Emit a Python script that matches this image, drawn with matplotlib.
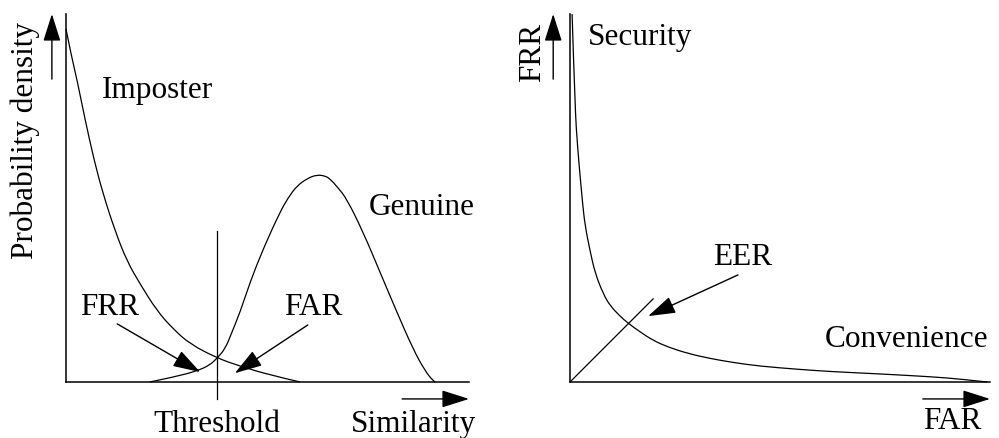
import matplotlib
matplotlib.use("Agg")
import matplotlib.pyplot as plt
from matplotlib.path import Path
from matplotlib.patches import PathPatch

plt.rcParams["font.family"] = ["Liberation Serif", "DejaVu Serif"]

# left panel: score distributions (both axes on a 0-100 scale)
imposter_x = [0, 1.5, 2.7, 4.7, 6.9, 9.2, 12.2, 15.1, 18.4, 22.6, 26.6, 30.8, 37.5, 43.2, 50.6, 58.1]
imposter_y = [95.9, 87.8, 82.3, 71.5, 60.6, 51.1, 41.0, 32.9, 26.6, 19.3, 14.4, 10.3, 6.5, 4.3, 1.9, 0]

genuine_x = [20.8, 27.0, 32.5, 35.7, 37.5, 39.5, 41.2, 43.2, 45.7, 48.9, 53.1, 55.2, 57.3, 60.0,
             62.3, 64.3, 65.5, 67.5, 69.7, 73.7, 77.9, 82.1, 86.1, 89.1, 91.1, 91.6]
genuine_y = [0, 1.4, 3.0, 4.6, 6.5, 9.0, 13.6, 19.0, 27.2, 36.1, 46.2, 50.2, 53.3, 55.4,
             56.3, 56.0, 55.2, 52.8, 49.7, 40.8, 29.9, 19.0, 9.0, 3.0, 0.3, 0]

threshold = 37.5

# right panel: FRR vs FAR trade-off
far = [0.5, 1.2, 1.8, 2.4, 3.0, 3.6, 4.8, 6.0, 7.9, 9.5, 11.9, 13.8, 16.7, 19.8, 23.1,
       27.9, 33.3, 38.8, 45.2, 54.8, 62.6, 73.8, 86.4, 92.9, 99.3]
frr = [100, 74.2, 64, 56.0, 48.5, 42.4, 35.5, 29.5, 24.0, 20.8, 17.9, 16.0, 13.6, 11.3, 9.6,
       7.8, 6.4, 5.3, 4.3, 3.4, 2.8, 2.2, 1.4, 0.8, 0]
eer_line = [0, 19.8]
eer_line_y = [0, 22.6]

FS = 22.5
LW = 0.9
head = "-|>,head_length=0.85,head_width=0.27"

fig = plt.figure(figsize=(9.99, 4.39), dpi=100)
W, H = 999, 439
ax1 = fig.add_axes([66 / W, (H - 383) / H, 403 / W, 368 / H])
ax2 = fig.add_axes([570 / W, (H - 383) / H, 420 / W, 368 / H])

for ax in (ax1, ax2):
    ax.set_xlim(0, 100)
    ax.set_ylim(0, 100)
    ax.set_xticks([])
    ax.set_yticks([])
    for s in ("top", "right"):
        ax.spines[s].set_visible(False)
    for s in ("left", "bottom"):
        ax.spines[s].set_linewidth(1.1)
    ax.patch.set_alpha(0)


def smooth_curve(ax, xs, ys):
    # quadratic segments through the midpoints, so the read points act as controls
    pts = list(zip(xs, ys))
    verts = [pts[0]]
    codes = [Path.MOVETO]
    for i in range(1, len(pts) - 1):
        mid = ((pts[i][0] + pts[i + 1][0]) / 2, (pts[i][1] + pts[i + 1][1]) / 2)
        end = mid if i < len(pts) - 2 else pts[-1]
        verts += [pts[i], end]
        codes += [Path.CURVE3, Path.CURVE3]
    ax.add_patch(PathPatch(Path(verts, codes), fill=False, ec="black", lw=LW,
                           clip_on=False))


def arrow(ax, tail, tip):
    ax.annotate("", xy=tip, xytext=tail, annotation_clip=False,
                arrowprops=dict(arrowstyle=head, color="black", lw=1.0,
                                mutation_scale=20, shrinkA=0, shrinkB=0))


# left panel
smooth_curve(ax1, imposter_x, imposter_y)
smooth_curve(ax1, genuine_x, genuine_y)
ax1.plot([threshold, threshold], [41.0, -4.6], color="black", lw=LW, clip_on=False)
arrow(ax1, (12.7, 15.8), (33.3, 2.7))
arrow(ax1, (60.0, 15.5), (41.9, 2.4))
arrow(ax1, (83.4, -4.6), (100, -4.6))
arrow(ax1, (-3.5, 82.3), (-3.5, 100))

ax1.text(22.8, 79.6, "Imposter", fontsize=FS, ha="center", va="center")
ax1.text(88.3, 47.6, "Genuine", fontsize=FS, ha="center", va="center", clip_on=False)
ax1.text(10.9, 20.4, "FRR", fontsize=FS, ha="center", va="center")
ax1.text(61.3, 20.4, "FAR", fontsize=FS, ha="center", va="center")
ax1.text(threshold, -13.4, "Threshold", fontsize=FS, ha="center", va="baseline")
ax1.text(86.1, -13.4, "Similarity", fontsize=FS, ha="center", va="baseline")
ax1.text(-10.0, 66.0, "Probability density", fontsize=FS, ha="center", va="center",
         rotation=90)

# right panel
smooth_curve(ax2, far, frr)
ax2.plot(eer_line, eer_line_y, color="black", lw=LW)
arrow(ax2, (40.0, 29.1), (18.6, 17.9))
arrow(ax2, (84.0, -4.6), (100, -4.6))
arrow(ax2, (-4.0, 82.3), (-4.0, 100))

ax2.text(16.7, 93.8, "Security", fontsize=FS, ha="center", va="center")
ax2.text(41.0, 34.0, "EER", fontsize=FS, ha="center", va="center")
ax2.text(80.2, 11.7, "Convenience", fontsize=FS, ha="center", va="center")
ax2.text(91.0, -12.4, "FAR", fontsize=FS, ha="center", va="baseline")
ax2.text(-8.8, 89.7, "FRR", fontsize=FS, ha="center", va="center", rotation=90)

fig.savefig("out.png", dpi=100)
